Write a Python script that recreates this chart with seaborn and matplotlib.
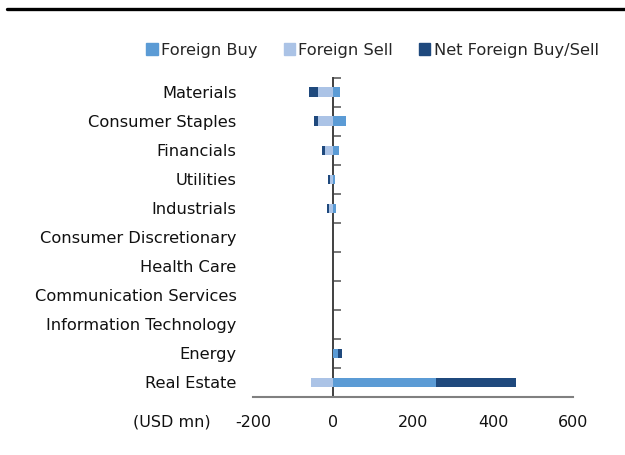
import numpy as np
import pandas as pd
import matplotlib.pyplot as plt
import seaborn as sns
from matplotlib.patches import Patch
from matplotlib.lines import Line2D

sectors = ["Materials", "Consumer Staples", "Financials", "Utilities", "Industrials",
           "Consumer Discretionary", "Health Care", "Communication Services",
           "Information Technology", "Energy", "Real Estate"]
foreign_buy = [17, 31, 14, 4, 7, 0.5, 0.5, 0, 0, 13, 256]
foreign_sell = [-39, -39, -20, -8, -11, -0.5, -0.5, -0.5, -0.5, 0, -55]
net_flow = [-21, -8, -7, -4, -4, -1, 0, -0.5, 0, 8, 202]

BUY_COL = "#5b9bd5"
SELL_COL = "#abc3e6"
NET_COL = "#1f497d"

df = pd.DataFrame({"sector": sectors, "buy": foreign_buy, "sell": foreign_sell, "net": net_flow})
# stacked: positives build to the right from buy, negatives build to the left from sell
df["pos_net"] = df["net"].clip(lower=0)
df["neg_net"] = df["net"].clip(upper=0)
df["pos_total"] = df["buy"] + df["pos_net"]
df["neg_total"] = df["sell"] + df["neg_net"]

sns.set_style("white")
plt.rcParams["font.family"] = ["DejaVu Sans"]
plt.rcParams["axes.unicode_minus"] = False

fig = plt.figure(figsize=(6.25, 4.55), dpi=100)
ax = fig.add_axes([0.405, 0.1275, 0.512, 0.702])

bw = 0.32
kw = dict(width=bw, saturation=1, ax=ax, orient="h", linewidth=0)
sns.barplot(data=df, y="sector", x="pos_total", color=NET_COL, **kw)
sns.barplot(data=df, y="sector", x="neg_total", color=NET_COL, **kw)
sns.barplot(data=df, y="sector", x="buy", color=BUY_COL, **kw)
sns.barplot(data=df, y="sector", x="sell", color=SELL_COL, **kw)

ax.set_xlim(-200, 600)
ax.set_ylim(10.5, -0.5)
ax.set_xticks([-200, 0, 200, 400, 600])
ax.set_xlabel("")
ax.set_ylabel("")
for s in ["top", "right", "left"]:
    ax.spines[s].set_visible(False)
ax.spines["bottom"].set_color("#808080")
ax.spines["bottom"].set_linewidth(1.5)
ax.tick_params(axis="x", direction="in", length=5, width=1.2, color="#606060",
               labelsize=11.5, pad=13, labelcolor="#111111")
ax.tick_params(axis="y", length=0, labelsize=11.7, pad=12, labelcolor="#111111")

# zero line with category boundary ticks
sec = ax.secondary_yaxis(0.25)
sec.set_yticks(np.arange(-0.5, 11, 1))
sec.set_yticklabels([])
sec.tick_params(axis="y", direction="in", length=6, width=1.2, color="#606060")
sec.spines["left"].set_color("#404040")
sec.spines["left"].set_linewidth(1.4)

ax.text(-0.255, -0.054, "(USD mn)", transform=ax.transAxes, ha="center", va="top",
        fontsize=11.5, color="#111111")

handles = [Patch(color=BUY_COL), Patch(color=SELL_COL), Patch(color=NET_COL)]
fig.legend(handles, ["Foreign Buy", "Foreign Sell", "Net Foreign Buy/Sell"], ncol=3,
           loc="center", bbox_to_anchor=(0.596, 0.89), frameon=False, fontsize=11.7,
           handlelength=0.7, handleheight=0.7, handletextpad=0.2, columnspacing=1.6)

fig.add_artist(Line2D([0.011, 1.0], [0.98, 0.98], color="black", lw=2.4, transform=fig.transFigure))

fig.savefig("out.png", dpi=100)
